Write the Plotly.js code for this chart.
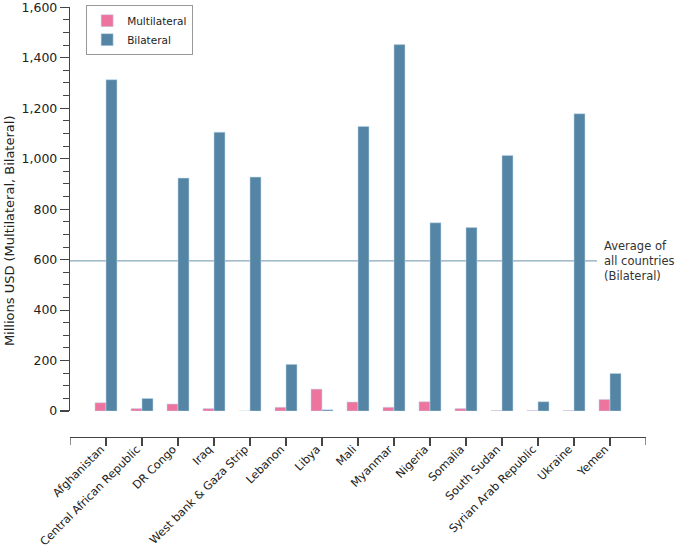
<!DOCTYPE html>
<html>
<head>
<meta charset="utf-8">
<script src="https://cdn.plot.ly/plotly-3.0.1.min.js"></script>
<style>html,body{margin:0;padding:0;background:#fff;}#chart{width:676px;height:549px;}</style>
</head>
<body>
<div id="chart"></div>
<script>
var countries = ["Afghanistan","Central African Republic","DR Congo","Iraq","West bank & Gaza Strip","Lebanon","Libya","Mali","Myanmar","Nigeria","Somalia","South Sudan","Syrian Arab Republic","Ukraine","Yemen"];
var multilateral = [33, 10, 28, 10, 0, 15, 87, 36, 15, 37, 10, 2, 2, 2, 46];
var bilateral = [1313, 50, 923, 1105, 927, 185, 5, 1128, 1452, 746, 727, 1013, 37, 1178, 149];
var averageBilateral = 595;
var yTickVals = [0, 200, 400, 600, 800, 1000, 1200, 1400, 1600];

var font = "DejaVu Sans, Verdana, sans-serif";
var edge = {color: "rgba(190,215,235,0.9)", width: 0.6};

var data = [
  {type: "bar", name: "Multilateral", x: countries, y: multilateral,
   marker: {color: "#ee74a0", line: edge}},
  {type: "bar", name: "Bilateral", x: countries, y: bilateral,
   marker: {color: "#5585a5", line: edge}}
];

var layout = {
  width: 676, height: 549,
  margin: {l: 70, r: 30, t: 6, b: 112},
  paper_bgcolor: "#fff", plot_bgcolor: "#fff",
  font: {family: font, size: 12, color: "#222"},
  barmode: "group", bargap: 0.39, bargroupgap: 0,
  showlegend: true,
  legend: {x: 0.028, y: 1.002, xanchor: "left", yanchor: "top",
           bgcolor: "#fff", bordercolor: "#999", borderwidth: 1,
           font: {family: font, size: 10.5, color: "#222"},
           tracegroupgap: 0, itemwidth: 30},
  xaxis: {type: "category", range: [-1, 15], anchor: "free", position: 0,
          showline: true, linecolor: "#444", linewidth: 1.2,
          ticks: "outside", ticklen: 8, tickcolor: "#444", tickwidth: 1.2,
          tickangle: -45, showgrid: false, zeroline: false,
          ticklabelstandoff: -8, ticklabelshift: -5,
          tickfont: {family: font, size: 11.3, color: "#222"}},
  yaxis: {domain: [0.0603, 1], range: [0, 1601],
          tickmode: "array", tickvals: yTickVals, tickformat: ",d",
          ticklabeloverflow: "allow",
          showline: true, linecolor: "#444", linewidth: 1.2,
          ticks: "outside", ticklen: 9, tickcolor: "#444", tickwidth: 1.2,
          minor: {dtick: 50, ticks: "outside", ticklen: 6, tickcolor: "#444", tickwidth: 1},
          showgrid: false, zeroline: false,
          tickfont: {family: font, size: 12.5, color: "#222"}},
  shapes: [
    {type: "line", layer: "below", xref: "paper", yref: "y",
     x0: 0, x1: 0.915, y0: averageBilateral, y1: averageBilateral,
     line: {color: "#6a93aa", width: 1}},
    {type: "line", xref: "x", yref: "paper", ysizemode: "pixel", yanchor: 0,
     x0: -1, x1: -1, y0: 0, y1: -8, line: {color: "#444", width: 1.2}},
    {type: "line", xref: "x", yref: "paper", ysizemode: "pixel", yanchor: 0,
     x0: 15, x1: 15, y0: 0, y1: -8, line: {color: "#444", width: 1.2}}
  ],
  annotations: [
    {text: "Average of<br>all countries<br>(Bilateral)", xref: "paper", yref: "y",
     x: 0.923, y: averageBilateral, xanchor: "left", yanchor: "middle", align: "left",
     showarrow: false, font: {family: font, size: 11.5, color: "#333"}},
    {text: "Millions USD (Multilateral, Bilateral)", xref: "paper", yref: "paper",
     x: -0.105, y: 0.48, xanchor: "center", yanchor: "middle", textangle: -90,
     showarrow: false, font: {family: font, size: 13, color: "#222"}}
  ]
};

Plotly.newPlot("chart", data, layout, {displayModeBar: false, staticPlot: true});
</script>
</body>
</html>
